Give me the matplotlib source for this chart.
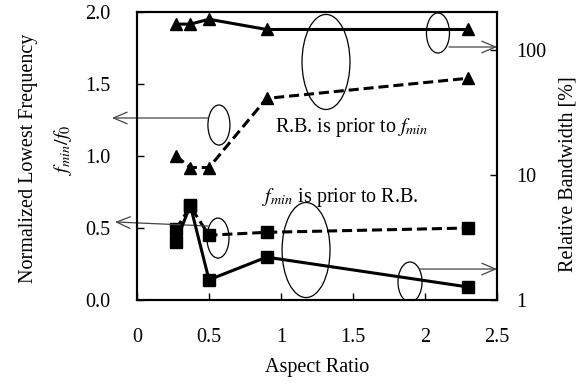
import matplotlib.pyplot as plt
from matplotlib.patches import Ellipse
from matplotlib.ticker import FixedLocator, FuncFormatter, NullLocator

plt.rcParams['font.family'] = ['Liberation Serif', 'DejaVu Serif']
plt.rcParams['mathtext.fontset'] = 'stix'
plt.rcParams['font.size'] = 14.5

# data
aspect = [0.27, 0.37, 0.5, 0.9, 2.3]
fmin_tri = [1.0, 0.92, 0.92, 1.40, 1.54]   # R.B. prior, left axis (dashed)
rb_tri = [160, 160, 175, 145, 145]         # R.B. prior, right axis (solid)
fmin_sq = [0.49, 0.65, 0.45, 0.47, 0.50]   # fmin prior, left axis (dashed)
rb_sq = [2.9, 5.7, 1.45, 2.2, 1.27]        # fmin prior, right axis (solid)

x_ticks = [0, 0.5, 1, 1.5, 2, 2.5]
left_ticks = [0.0, 0.5, 1.0, 1.5, 2.0]
right_ticks = [1, 10, 100]

W, H = 586, 385
fig = plt.figure(figsize=(W / 100, H / 100), dpi=100)
ax = fig.add_axes([137 / W, 85 / H, 360 / W, 288 / H])
ax2 = ax.twinx()

dash = (0, (3.3, 1.6))
ax.plot(aspect, fmin_tri, color='black', lw=2.2, ls=dash, marker='^', ms=9)
ax.plot(aspect, fmin_sq, color='black', lw=2.2, ls=dash, marker='s', ms=9)
ax2.plot(aspect, rb_tri, color='black', lw=2.2, marker='^', ms=9)
ax2.plot(aspect, rb_sq, color='black', lw=2.2, marker='s', ms=9)

ax.set_xlim(0, 2.5)
ax.set_ylim(0, 2.0)
ax2.set_yscale('log')
ax2.set_ylim(1, 200)

ax.xaxis.set_major_locator(FixedLocator(x_ticks))
ax.xaxis.set_major_formatter(FuncFormatter(lambda v, p: '%g' % v))
ax.yaxis.set_major_locator(FixedLocator(left_ticks))
ax.yaxis.set_major_formatter(FuncFormatter(lambda v, p: '%.1f' % v))
ax2.yaxis.set_major_locator(FixedLocator(right_ticks))
ax2.yaxis.set_major_formatter(FuncFormatter(lambda v, p: '%g' % v))
ax2.yaxis.set_minor_locator(NullLocator())

ax.tick_params(axis='x', direction='in', length=5, width=1, pad=20)
ax.tick_params(axis='y', direction='in', length=5, width=1, pad=19)
ax2.tick_params(axis='y', direction='in', length=5, width=1, pad=14)
for a in (ax, ax2):
    for s in a.spines.values():
        s.set_linewidth(1.5)

ax.set_xlabel('Aspect Ratio', labelpad=8)
fig.text(28 / W, 1 - 158 / H, 'Normalized Lowest Frequency', rotation=90,
         ha='center', va='center')
fig.text(63 / W, 1 - 150 / H, r'$f_{min}/f_0$', rotation=90,
         ha='center', va='center')
fig.text(568 / W, 1 - 174 / H, 'Relative Bandwidth [%]', rotation=90,
         ha='center', va='center')

# grouping ellipses and arrows
ell = dict(fill=False, lw=0.9, color='black', zorder=1)
for (cx, cy), w, h in [((0.569, 1.215), 0.153, 0.278),
                       ((1.3125, 1.653), 0.333, 0.66),
                       ((2.09, 1.854), 0.16, 0.278),
                       ((0.5625, 0.43), 0.153, 0.278),
                       ((1.174, 0.347), 0.333, 0.66),
                       ((1.896, 0.125), 0.167, 0.278)]:
    ax.add_patch(Ellipse((cx, cy), w, h, **ell))

arrow = dict(arrowstyle='->,head_length=0.7,head_width=0.3', lw=0.9,
             color='#444444', shrinkA=0, shrinkB=0, mutation_scale=14)
for start, tip in [((0.493, 1.264), (-0.174, 1.264)),
                   ((0.493, 0.514), (-0.153, 0.542)),
                   ((2.167, 1.757), (2.5, 1.757)),
                   ((1.965, 0.215), (2.5, 0.215))]:
    ax.annotate('', xy=tip, xytext=start, arrowprops=arrow,
                annotation_clip=False)

ax.text(0.958, 1.20, r'R.B. is prior to $f_{min}$', va='center', fontsize=14.5)
ax.text(0.868, 0.715, r'$f_{min}$ is prior to R.B.', va='center', fontsize=14.5)

fig.savefig('out.png', dpi=100)
